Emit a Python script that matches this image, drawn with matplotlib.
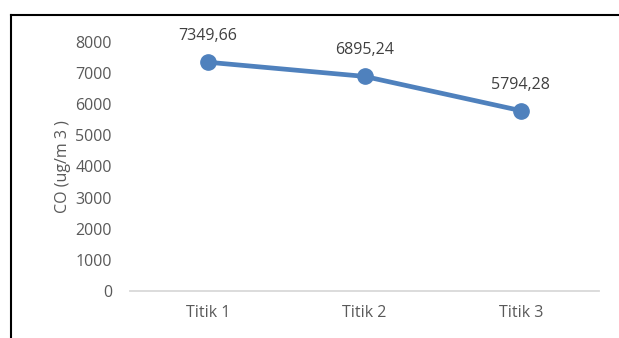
import matplotlib
matplotlib.use('Agg')
import matplotlib.pyplot as plt
from matplotlib.lines import Line2D

# data
categories = ['Titik 1', 'Titik 2', 'Titik 3']
co_values = [7349.66, 6895.24, 5794.28]
value_labels = ['7349,66', '6895,24', '5794,28']
yticks = [0, 1000, 2000, 3000, 4000, 5000, 6000, 7000, 8000]

plt.rcParams['font.family'] = ['Open Sans', 'DejaVu Sans']
text_color = '#595959'
fs = 11.5

W, H = 619, 338
fig = plt.figure(figsize=(W / 100, H / 100), dpi=100)
ax = fig.add_axes([130 / W, 1 - 291 / H, (599 - 130) / W, (291 - 42) / H])

x = range(len(categories))
ax.plot(x, co_values, color='#4F81BD', linewidth=3.4, marker='o',
        markersize=11, solid_capstyle='round', zorder=3, clip_on=False)

for xi, v, lab in zip(x, co_values, value_labels):
    ax.annotate(lab, (xi, v), xytext=(0, 13), textcoords='offset points',
                ha='center', va='bottom', fontsize=fs, color='#404040')

ax.set_xlim(-0.5, 2.5)
ax.set_ylim(0, 8000)
ax.set_xticks(list(x))
ax.set_xticklabels(categories)
ax.set_yticks(yticks)
ax.set_yticklabels([str(t) for t in yticks])
ax.tick_params(axis='both', length=0, labelsize=fs, labelcolor=text_color)
ax.tick_params(axis='y', pad=13)
ax.tick_params(axis='x', pad=10)

for s in ['top', 'right', 'left']:
    ax.spines[s].set_visible(False)
ax.spines['bottom'].set_color('#D9D9D9')
ax.spines['bottom'].set_linewidth(1.3)

ax.set_ylabel('CO (ug/m 3 )', fontsize=fs, color=text_color)
ax.yaxis.set_label_coords(-0.125, 0.5)

# outer frame (top and left edge visible)
fig.add_artist(Line2D([10.5 / W, 1], [1 - 14.5 / H, 1 - 14.5 / H],
                      color='black', linewidth=1.5, transform=fig.transFigure))
fig.add_artist(Line2D([10.5 / W, 10.5 / W], [0, 1 - 14.5 / H],
                      color='black', linewidth=1.5, transform=fig.transFigure))

fig.savefig('out.png', dpi=100)
